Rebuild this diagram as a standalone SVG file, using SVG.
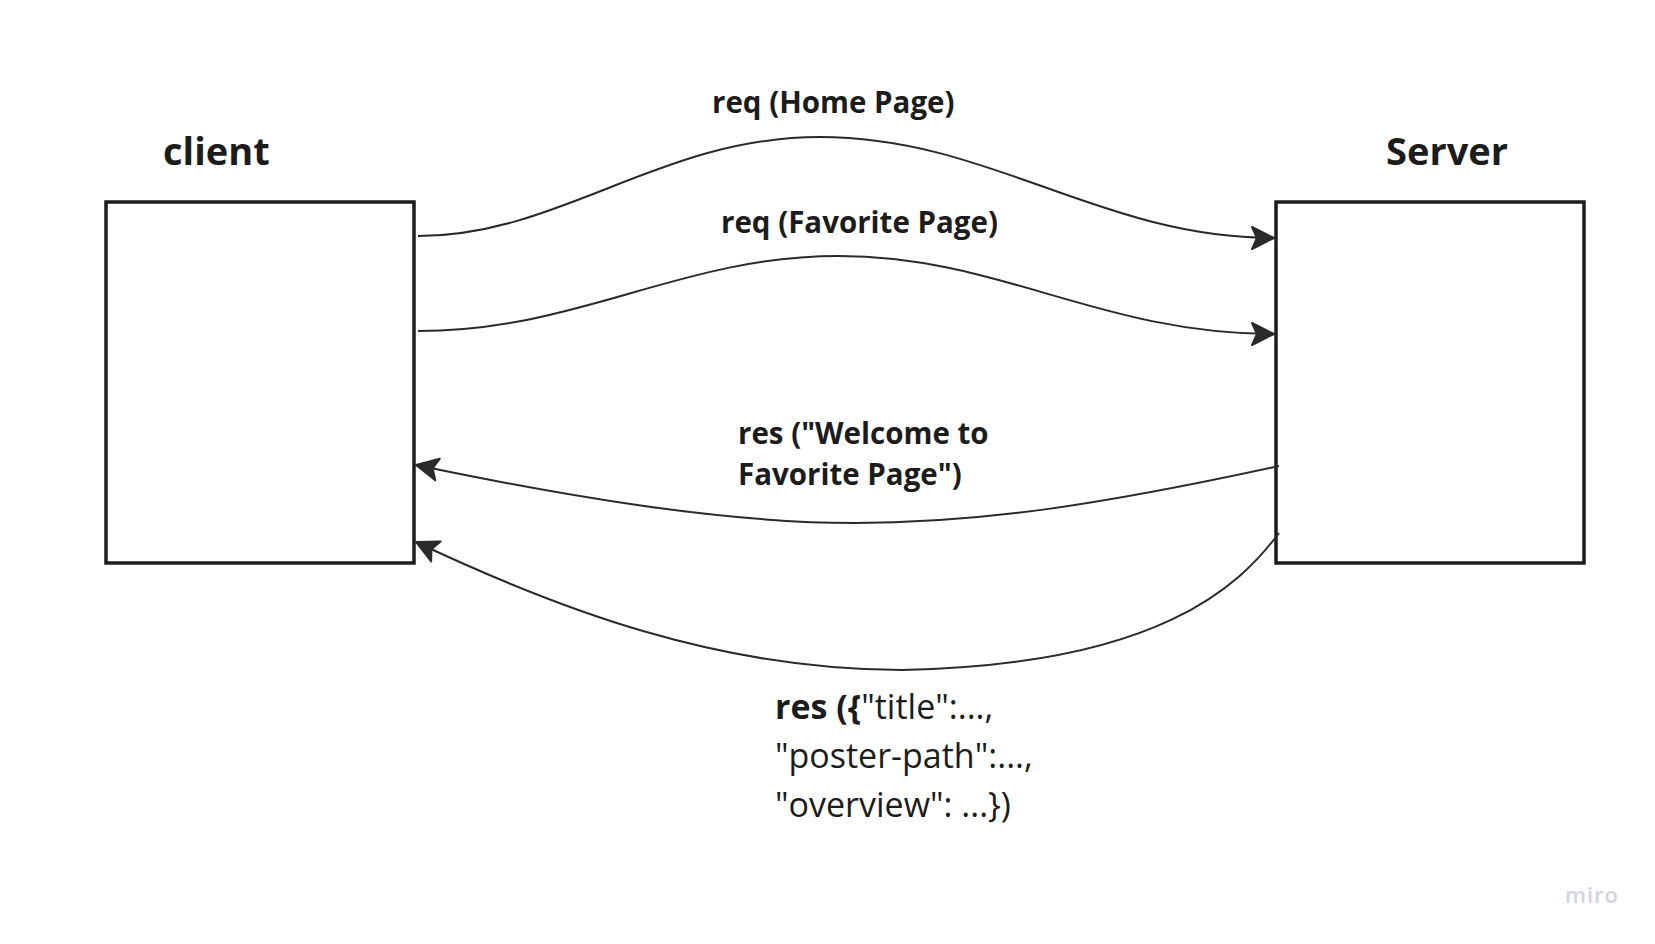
<svg xmlns="http://www.w3.org/2000/svg" width="1655" height="944" viewBox="0 0 1655 944">
  <style>
    .box { fill: #ffffff; stroke: #1c1c1c; stroke-width: 3.5; }
    .title { font-family: "Open Sans", "Liberation Sans", sans-serif; font-weight: 700; font-size: 38px; fill: #1c1c1c; }
    .lbl { font-family: "Open Sans", "Liberation Sans", sans-serif; font-weight: 700; font-size: 29.5px; fill: #1c1c1c; }
    .body { font-family: "Open Sans", "Liberation Sans", sans-serif; font-weight: 400; font-size: 34px; fill: #1c1c1c; }
    .edge { fill: none; stroke: #2a2a2a; stroke-width: 2; marker-end: url(#arrow); }
    .wm { font-family: "Open Sans", "Liberation Sans", sans-serif; font-weight: 600; font-size: 22px; fill: #d2d3de; letter-spacing: 1px; }
  </style>
  <defs>
    <marker id="arrow" markerUnits="userSpaceOnUse" markerWidth="30" markerHeight="30" viewBox="0 0 30 30" refX="26" refY="15" orient="auto">
      <path d="M26,15 L4,4 L9,15 L4,26 Z" fill="#2a2a2a" stroke="#2a2a2a" stroke-width="2" stroke-linejoin="round"/>
    </marker>
  </defs>
  <rect width="1655" height="944" fill="#ffffff"/>

  <g id="client">
    <rect class="box" x="106" y="202" width="308" height="361"/>
    <text class="title" x="163" y="165">client</text>
  </g>

  <g id="server">
    <rect class="box" x="1276" y="202" width="308" height="361"/>
    <text class="title" x="1386" y="165">Server</text>
  </g>

  <g id="connectors">
    <path class="edge" d="M418,236 C560,236 660,137 820,137 C990,137 1100,238 1274,238"/>
    <path class="edge" d="M418,331 C580,331 680,256 839,256 C1000,256 1100,334 1274,334"/>
    <path class="edge" d="M1279,466 C1100,505 980,523 855,523 C720,523 560,495 416,465"/>
    <path class="edge" d="M1279,533 C1240,585 1160,665 902,670 C720,670 560,610 416,542"/>
    <text class="lbl" x="712" y="113">req (Home Page)</text>
    <text class="lbl" x="721" y="233">req (Favorite Page)</text>
    <text class="lbl" x="738" y="444">res ("Welcome to</text>
    <text class="lbl" x="738" y="485">Favorite Page")</text>
    <text class="body" x="775" y="719"><tspan font-weight="700">res ({</tspan>"title":...,</text>
    <text class="body" x="775" y="768">"poster-path":...,</text>
    <text class="body" x="775" y="817">"overview": ...})</text>
  </g>

  <text class="wm" x="1565" y="903">miro</text>
</svg>
